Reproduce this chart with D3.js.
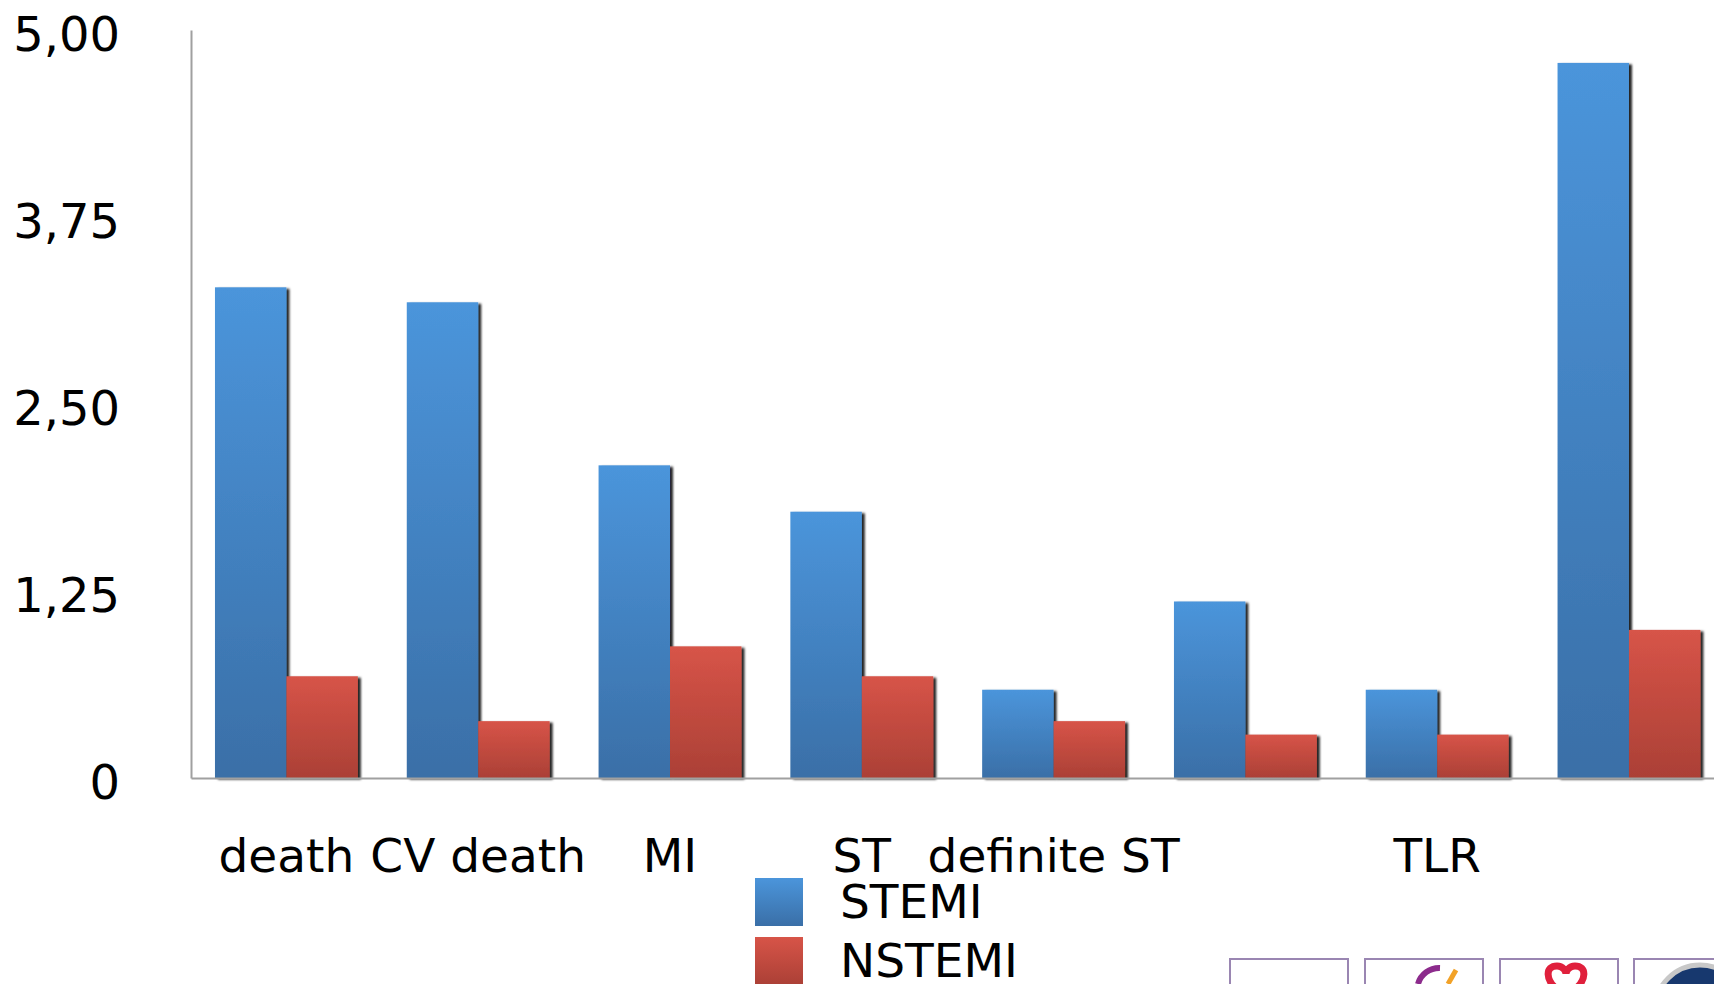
<!DOCTYPE html>
<html>
<head>
<meta charset="utf-8">
<script src="https://cdn.jsdelivr.net/npm/d3@7"></script>
<style>
 body { margin: 0; background: #fff; overflow: hidden; }
 svg { display: block; font-family: "DejaVu Sans", sans-serif; }
</style>
</head>
<body>
<div id="chart"></div>
<script>
// chart values
var categories = ["death", "CV death", "MI", "ST", "definite ST", "", "TLR", ""];
var series = ["STEMI", "NSTEMI"];
var stemi = [3.28, 3.18, 2.09, 1.78, 0.59, 1.18, 0.59, 4.78];
var nstemi = [0.68, 0.38, 0.88, 0.68, 0.38, 0.29, 0.29, 0.99];
var yTicks = [0, 1.25, 2.5, 3.75, 5];
var yTickLabels = ["0", "1,25", "2,50", "3,75", "5,00"];

function barchart() {
 var W = 1714, H = 984;
 var left = 191, top = 30, base = 778;

 var svg = d3.select("#chart")
  .append("svg")
  .attr("width", W)
  .attr("height", H);

 var defs = svg.append("defs");
 var grads = [["gradBlue", "#4b95db", "#3a6fa7"], ["gradRed", "#d75448", "#ab4036"]];
 grads.forEach(function(g) {
  var lg = defs.append("linearGradient").attr("id", g[0])
   .attr("x1", 0).attr("y1", 0).attr("x2", 0).attr("y2", 1);
  lg.append("stop").attr("offset", "0%").attr("stop-color", g[1]);
  lg.append("stop").attr("offset", "100%").attr("stop-color", g[2]);
 });
 defs.append("filter").attr("id", "shadow")
  .attr("x", "-10%").attr("y", "-5%").attr("width", "130%").attr("height", "115%")
  .append("feDropShadow")
  .attr("dx", 3).attr("dy", 1.5).attr("stdDeviation", 1)
  .attr("flood-color", "#000").attr("flood-opacity", 0.85);

 // scales
 var x = d3.scaleBand()
  .domain(d3.range(categories.length))
  .range([left, 1724.4])
  .paddingInner(0.255)
  .paddingOuter(0.125);

 var xs = d3.scaleBand()
  .domain(series)
  .range([0, x.bandwidth()])
  .padding(0);

 var y = d3.scaleLinear()
  .domain([0, 5])
  .range([base, top]);

 // y axis
 var yAxis = svg.append("g")
  .attr("transform", "translate(" + left + ",0)")
  .call(d3.axisLeft(y)
   .tickValues(yTicks)
   .tickFormat(function(d, i) { return yTickLabels[i]; })
   .tickSizeInner(0)
   .tickSizeOuter(0)
   .tickPadding(71));
 yAxis.select(".domain").attr("stroke", "#a0a0a0").attr("stroke-width", 2);
 yAxis.selectAll("text")
  .attr("font-size", 48)
  .attr("font-family", "DejaVu Sans")
  .attr("fill", "#000")
  .attr("dy", "0.42em");

 // bars
 var data = categories.map(function(c, i) {
  return [{key: "STEMI", i: i, v: stemi[i]}, {key: "NSTEMI", i: i, v: nstemi[i]}];
 });

 var groups = svg.selectAll(".grp")
  .data(data)
  .enter()
  .append("g")
  .attr("class", "grp")
  .attr("transform", function(d, i) { return "translate(" + x(i) + ",0)"; });

 groups.selectAll("rect")
  .data(function(d) { return d; })
  .enter()
  .append("rect")
  .attr("x", function(d) { return xs(d.key); })
  .attr("y", function(d) { return y(d.v); })
  .attr("width", xs.bandwidth())
  .attr("height", function(d) { return base - y(d.v); })
  .attr("fill", function(d) { return d.key == "STEMI" ? "url(#gradBlue)" : "url(#gradRed)"; })
  .attr("filter", "url(#shadow)");

 // x axis
 var xAxis = svg.append("g")
  .attr("transform", "translate(0," + base + ")")
  .call(d3.axisBottom(x)
   .tickFormat(function(d) { return categories[d]; })
   .tickSizeInner(0)
   .tickSizeOuter(0));
 xAxis.select(".domain").attr("stroke", "#a0a0a0").attr("stroke-width", 2);
 xAxis.selectAll("text")
  .attr("font-size", 47)
  .attr("font-family", "DejaVu Sans")
  .attr("fill", "#000")
  .attr("y", 94)
  .attr("dy", 0);

 // legend
 var legend = svg.append("g").attr("transform", "translate(755,878)");
 series.forEach(function(s, i) {
  legend.append("rect")
   .attr("x", 0).attr("y", i * 59)
   .attr("width", 48).attr("height", 48)
   .attr("fill", i == 0 ? "url(#gradBlue)" : "url(#gradRed)");
  legend.append("text")
   .attr("x", 85).attr("y", i * 59 + 40)
   .attr("font-size", 47)
   .text(s);
 });

 // logo boxes in the lower right corner
 var logos = svg.append("g");
 [1230, 1365, 1500, 1634].forEach(function(lx) {
  logos.append("rect")
   .attr("x", lx).attr("y", 959)
   .attr("width", 118).attr("height", 40)
   .attr("fill", "#fff")
   .attr("stroke", "#9a86b2").attr("stroke-width", 2);
 });
 logos.append("path")
  .attr("d", "M1418,984 A22,22 0 0 1 1440,968")
  .attr("fill", "none").attr("stroke", "#8c2b8c").attr("stroke-width", 6);
 logos.append("path")
  .attr("d", "M1448,984 L1456,970")
  .attr("fill", "none").attr("stroke", "#f2a228").attr("stroke-width", 5);
 logos.append("path")
  .attr("d", "M1558,990 C1545,980 1545,966 1557,966 C1563,966 1566,971 1566,974 C1566,971 1569,966 1575,966 C1587,966 1587,980 1574,990 Z")
  .attr("fill", "none").attr("stroke", "#e0203c").attr("stroke-width", 7);
 logos.append("circle")
  .attr("cx", 1700).attr("cy", 1010).attr("r", 45)
  .attr("fill", "#17386e").attr("stroke", "#c8c8c8").attr("stroke-width", 5);
}
barchart();
</script>
</body>
</html>
